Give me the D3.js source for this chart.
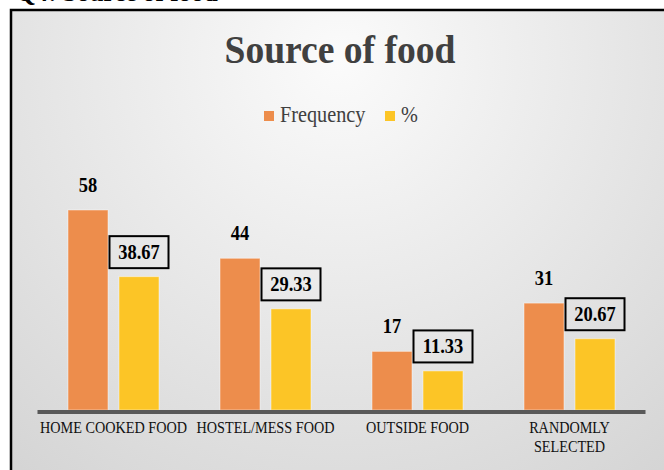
<!DOCTYPE html>
<html>
<head>
<meta charset="utf-8">
<script src="https://cdn.jsdelivr.net/npm/d3@7"></script>
<style>
  body { margin: 0; background: #fff; }
  svg { display: block; }
</style>
</head>
<body>
<div id="chart"></div>
<script>
const categories = ['HOME COOKED FOOD', 'HOSTEL/MESS FOOD', 'OUTSIDE FOOD', 'RANDOMLY SELECTED'];
const tickLines = [['HOME COOKED FOOD'], ['HOSTEL/MESS FOOD'], ['OUTSIDE FOOD'], ['RANDOMLY', 'SELECTED']];
const frequency = [58, 44, 17, 31];
const percent = [38.67, 29.33, 11.33, 20.67];
const seriesNames = ['Frequency', '%'];
const colors = ['#ED8D4C', '#FCC526'];

const width = 664;
const height = 470;
const serif = '"Liberation Serif", "Times New Roman", serif';
const squeeze = 0.9;

const svg = d3.select('#chart')
    .append('svg')
    .attr('width', width)
    .attr('height', height);

const grad = svg.append('defs').append('radialGradient')
    .attr('id', 'bg')
    .attr('gradientUnits', 'userSpaceOnUse')
    .attr('cx', 340).attr('cy', 60).attr('r', 560);
grad.append('stop').attr('offset', 0).attr('stop-color', '#fbfbfb');
grad.append('stop').attr('offset', 1).attr('stop-color', '#d2d2d2');

// chart area frame (runs off the right and bottom edge)
svg.append('rect')
    .attr('x', 11).attr('y', 10)
    .attr('width', 720).attr('height', 520)
    .attr('fill', 'url(#bg)')
    .attr('stroke', '#000')
    .attr('stroke-width', 2.5);

function label(x, y, txt, size, opts = {}) {
    return svg.append('text')
        .attr('transform', `translate(${x},${y}) scale(${opts.sx || squeeze},1)`)
        .attr('text-anchor', opts.anchor || 'middle')
        .attr('font-family', serif)
        .attr('font-size', size)
        .attr('font-weight', opts.weight || 'normal')
        .attr('fill', opts.fill || '#000')
        .text(txt);
}

// heading of the page above the chart, cut off by the top edge
label(16, 0.5, 'Q4: Source of food', 28, { anchor: 'start', weight: 'bold' });

label(340, 63, 'Source of food', 40, { weight: 'bold', fill: '#404040', sx: 0.94 });

const data = categories.map((c, i) => ({ cat: c, values: [frequency[i], percent[i]] }));

const x0 = d3.scaleBand()
    .domain(categories)
    .range([37.5, 645.5]);

const x1 = d3.scaleBand()
    .domain(seriesNames)
    .range([30.5, 121.5])
    .paddingInner(0.216);

const y = d3.scaleLinear()
    .domain([0, 70])
    .range([410, 410 - 70 * 200 / 58]);

const groups = svg.append('g')
    .selectAll('g')
    .data(data)
    .join('g')
    .attr('transform', d => `translate(${x0(d.cat)},0)`);

groups.selectAll('rect')
    .data(d => d.values.map((v, j) => ({ key: seriesNames[j], v, j })))
    .join('rect')
    .attr('x', d => x1(d.key))
    .attr('y', d => y(d.v))
    .attr('width', x1.bandwidth())
    .attr('height', d => y(0) - y(d.v))
    .attr('fill', d => colors[d.j])
    .attr('stroke', 'rgba(255,255,255,0.45)')
    .attr('stroke-width', 1);

// frequency labels
data.forEach(d => {
    const cx = x0(d.cat) + x1('Frequency') + x1.bandwidth() / 2;
    label(cx, y(d.values[0]) - 18, d3.format('d')(d.values[0]), 20.5, { weight: 'bold' });
});

// percent labels in boxes
data.forEach(d => {
    const cx = x0(d.cat) + x1('%') + x1.bandwidth() / 2;
    const bottom = y(d.values[1]) - 8.5;
    svg.append('rect')
        .attr('x', cx - 29.5).attr('y', bottom - 32)
        .attr('width', 59).attr('height', 32)
        .attr('fill', 'none')
        .attr('stroke', '#000')
        .attr('stroke-width', 2);
    label(cx, bottom - 9, d3.format('.2f')(d.values[1]), 20.5, { weight: 'bold' });
});

// category axis
svg.append('line')
    .attr('x1', x0.range()[0]).attr('x2', x0.range()[1])
    .attr('y1', 412).attr('y2', 412)
    .attr('stroke', '#595959')
    .attr('stroke-width', 4);

categories.forEach((c, i) => {
    tickLines[i].forEach((line, k) => {
        label(x0(c) + x0.bandwidth() / 2, 433 + k * 19, line, 16, { fill: '#111', sx: 0.89 });
    });
});

// legend
const legend = svg.append('g');
const legendX = [264, 385];
seriesNames.forEach((s, i) => {
    legend.append('rect')
        .attr('x', legendX[i]).attr('y', 111)
        .attr('width', 10).attr('height', 10)
        .attr('fill', colors[i]);
    label(legendX[i] + 16, 122, s, 22.5, { anchor: 'start', fill: '#404040' });
});
</script>
</body>
</html>
